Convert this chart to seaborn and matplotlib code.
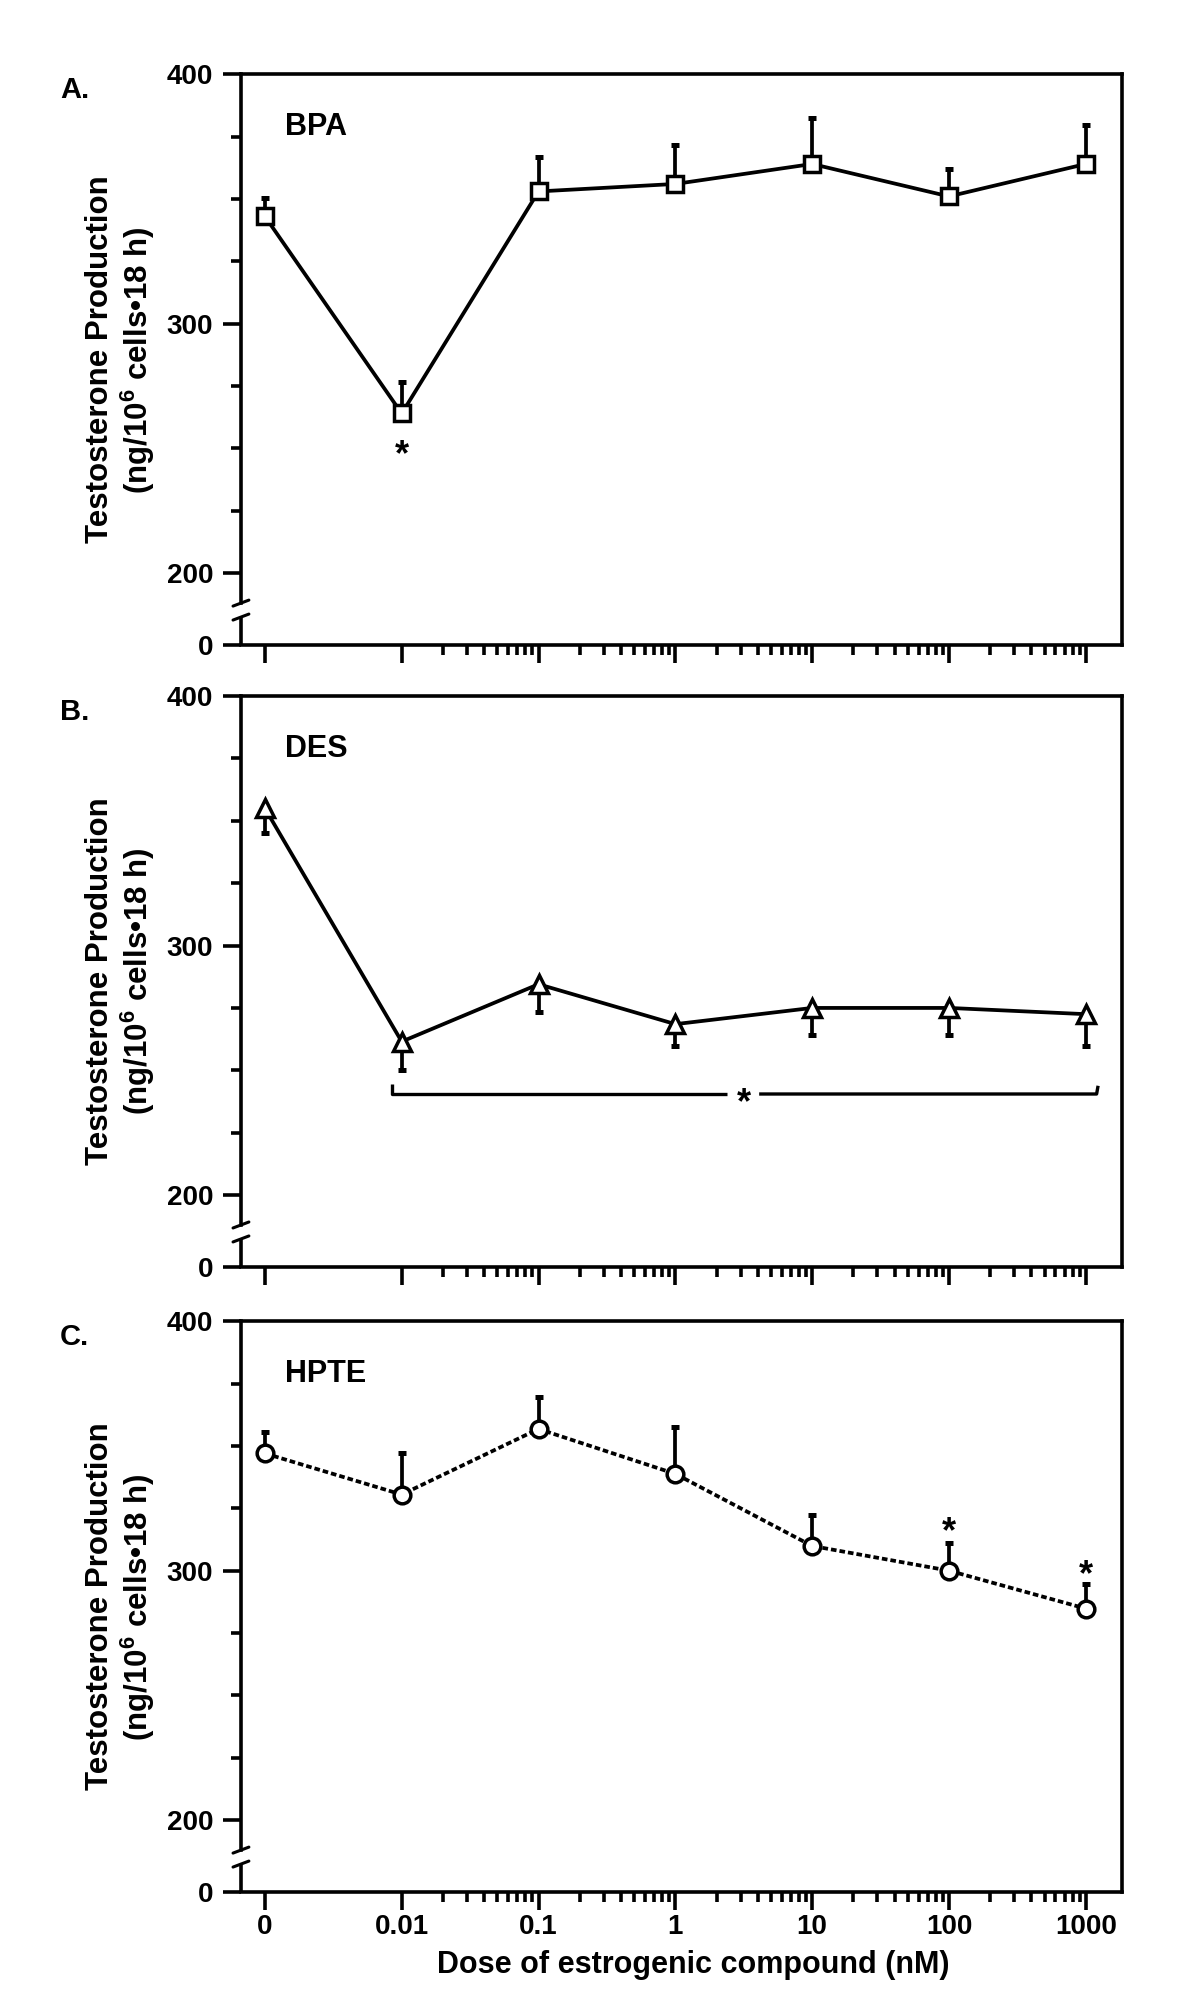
import numpy as np
import pandas as pd
import matplotlib
matplotlib.use("Agg")
import matplotlib.pyplot as plt
import matplotlib.ticker as mticker
import seaborn as sns

# --- data ---
DOSE_LABELS = ["0", "0.01", "0.1", "1", "10", "100", "1000"]
DOSE_POS = [0.001, 0.01, 0.1, 1, 10, 100, 1000]   # "0" sits one decade left of 0.01

BPA_MEAN = [343, 264, 353, 356, 364, 351, 364]
BPA_SEM = [7.5, 12.5, 14, 15.5, 18.5, 11, 15.5]

DES_MEAN = [355, 261.5, 284.5, 268.5, 275, 275, 272.5]
DES_SEM = [10, 11.5, 11, 8.7, 11, 11, 12.7]

HPTE_MEAN = [347, 330.5, 356.8, 338.8, 309.9, 300, 284.8]
HPTE_SEM = [8.5, 16.8, 12.7, 18.7, 12.5, 11, 10]

Y_TICKS = [200, 300, 400]
Y_MINOR = [225, 250, 275, 325, 350, 375]
AXIS_ZERO = 171.2      # where "0" is drawn below the axis break
BREAK_LO, BREAK_HI = 182.4, 188.0

sns.set_theme(style="ticks")
plt.rcParams["font.family"] = ["Liberation Sans", "DejaVu Sans"]
plt.rcParams["font.weight"] = "bold"
plt.rcParams["mathtext.fontset"] = "custom"
plt.rcParams["mathtext.rm"] = "Liberation Sans:bold"
plt.rcParams["mathtext.bf"] = "Liberation Sans:bold"
plt.rcParams["mathtext.default"] = "bf"

LW = 2.6
fig = plt.figure(figsize=(12, 20.1), dpi=100)

panels = [
    dict(letter="A.", name="BPA", mean=BPA_MEAN, sem=BPA_SEM, marker="s", ms=12,
         ls="-", side="up", bottom=0.6791),
    dict(letter="B.", name="DES", mean=DES_MEAN, sem=DES_SEM, marker="^", ms=13.5,
         ls="-", side="down", bottom=0.3697),
    dict(letter="C.", name="HPTE", mean=HPTE_MEAN, sem=HPTE_SEM, marker="o", ms=12,
         ls=(0, (1.5, 0.8)), side="up", bottom=0.0587),
]

axes = []
for i, p in enumerate(panels):
    ax = fig.add_axes([0.2008, p["bottom"], 0.734, 0.284])
    axes.append(ax)
    ax.set_xscale("log")

    sem = np.array(p["sem"])
    zeros = np.zeros_like(sem)
    yerr = [zeros, sem] if p["side"] == "up" else [sem, zeros]
    ax.errorbar(DOSE_POS, p["mean"], yerr=yerr, fmt="none", ecolor="black",
                elinewidth=2.7, capsize=3, capthick=3.6, zorder=2)

    df = pd.DataFrame({"dose": DOSE_POS, "testosterone": p["mean"]})
    sns.lineplot(data=df, x="dose", y="testosterone", ax=ax, color="black",
                 linewidth=2.7, linestyle=p["ls"], marker=p["marker"],
                 markersize=p["ms"], markerfacecolor="white",
                 markeredgecolor="black", markeredgewidth=2.5, zorder=3)

    ax.set_xlim(10 ** -3.175, 10 ** 3.263)
    ax.set_ylim(AXIS_ZERO, 400)

    # ticks
    ax.set_xticks(DOSE_POS)
    minor_x = [k * 10.0 ** e for e in range(-2, 3) for k in range(2, 10)]
    ax.xaxis.set_minor_locator(mticker.FixedLocator(minor_x))
    ax.xaxis.set_minor_formatter(mticker.NullFormatter())
    if i == 2:
        ax.set_xticklabels(DOSE_LABELS)
    else:
        ax.set_xticklabels([])
    ax.set_yticks([AXIS_ZERO] + Y_TICKS)
    ax.set_yticklabels(["0"] + [str(v) for v in Y_TICKS])
    ax.set_yticks(Y_MINOR, minor=True)
    ax.tick_params(axis="both", which="major", direction="out", length=13,
                   width=LW, labelsize=20, color="black", labelcolor="black")
    ax.tick_params(axis="x", which="major", pad=3)
    ax.tick_params(axis="y", which="major", pad=7)
    ax.tick_params(axis="both", which="minor", direction="out", length=7.5,
                   width=LW, color="black")

    for s in ax.spines.values():
        s.set_linewidth(LW)
        s.set_color("black")
    # axis break on the left spine
    ax.spines["left"].set_bounds(BREAK_HI, 400)
    ytr = ax.get_yaxis_transform()
    ax.plot([0, 0], [AXIS_ZERO, BREAK_LO], transform=ytr, color="black",
            lw=LW, clip_on=False, solid_capstyle="butt")
    for yb in (BREAK_LO, BREAK_HI):
        ax.plot([-0.009, 0.009], [yb - 1.2, yb + 1.2], transform=ytr,
                color="black", lw=2.2, clip_on=False)

    ax.set_ylabel("Testosterone Production\n(ng/10$^{6}$ cells\u202218 h)",
                  fontsize=22.5, fontweight="bold", linespacing=1.15, color="black")
    ax.yaxis.set_label_coords(-0.095, 0.5)

    ax.text(-0.2054, 0.972, p["letter"], transform=ax.transAxes, fontsize=21,
            fontweight="bold", ha="left", va="center", color="black")
    ax.text(0.05, 0.907, p["name"], transform=ax.transAxes, fontsize=22,
            fontweight="bold", ha="left", va="center", color="black")
    ax.set_xlabel("")

# significance marks
def star(ax, x, y):
    ax.annotate("*", (x, y), xytext=(0, -14), textcoords="offset points",
                ha="center", va="baseline", fontsize=26, fontweight="bold",
                color="black")

star(axes[0], 0.01, 251)
star(axes[2], 100, 319.2)
star(axes[2], 1000, 302.1)

# DES bracket
axB = axes[1]
axB.plot([0.0085, 0.0085, 2.4], [244.5, 240.5, 240.5], color="black", lw=2.4,
         solid_capstyle="butt")
axB.plot([4.1, 1200, 1230], [240.5, 240.5, 243.8], color="black", lw=2.4,
         solid_capstyle="butt")
star(axB, 3.16, 240.5)

axes[2].set_xlabel("Dose of estrogenic compound (nM)", fontsize=22,
                   fontweight="bold", color="black")
axes[2].xaxis.set_label_coords(0.513, -0.102)

fig.savefig("out.png", dpi=100)
